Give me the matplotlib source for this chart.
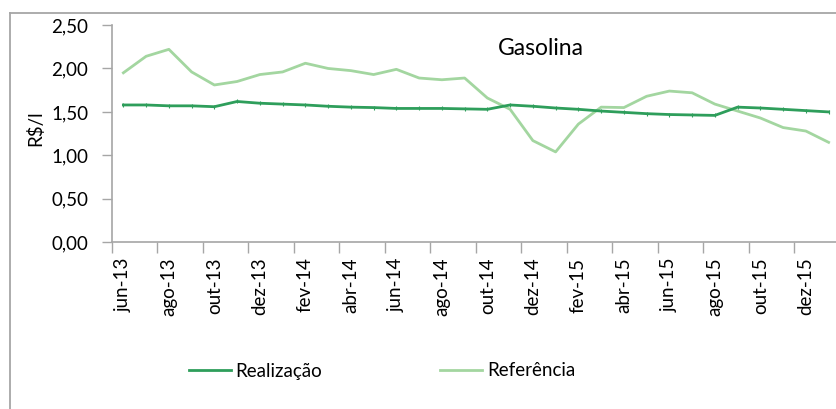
import matplotlib
matplotlib.use("Agg")
import matplotlib.pyplot as plt
from matplotlib.lines import Line2D
from matplotlib.ticker import FixedLocator, FuncFormatter

# ----------------------------------------------------------------------
# Data: monthly gasoline price (R$/l), jun-13 .. jan-16
# ----------------------------------------------------------------------
months = ["jun-13", "jul-13", "ago-13", "set-13", "out-13", "nov-13",
          "dez-13", "jan-14", "fev-14", "mar-14", "abr-14", "mai-14",
          "jun-14", "jul-14", "ago-14", "set-14", "out-14", "nov-14",
          "dez-14", "jan-15", "fev-15", "mar-15", "abr-15", "mai-15",
          "jun-15", "jul-15", "ago-15", "set-15", "out-15", "nov-15",
          "dez-15", "jan-16"]

realizacao = [1.58, 1.58, 1.57, 1.57, 1.56, 1.62, 1.60, 1.59, 1.58, 1.565,
              1.555, 1.55, 1.54, 1.54, 1.54, 1.535, 1.53, 1.58, 1.565, 1.545,
              1.53, 1.51, 1.495, 1.48, 1.47, 1.465, 1.46, 1.555, 1.545, 1.53,
              1.515, 1.50]

referencia = [1.95, 2.14, 2.22, 1.96, 1.81, 1.85, 1.93, 1.96, 2.06, 2.00,
              1.975, 1.93, 1.99, 1.89, 1.87, 1.89, 1.66, 1.53, 1.17, 1.04,
              1.36, 1.555, 1.55, 1.68, 1.74, 1.72, 1.59, 1.51, 1.43, 1.32,
              1.28, 1.15]

y_ticks = [0.0, 0.5, 1.0, 1.5, 2.0, 2.5]

COLOR_REAL = "#2e9e5b"
COLOR_REF = "#a3d6a0"
GRAY = "#a6a6a6"
FONT = ["Lato", "DejaVu Sans"]

plt.rcParams["font.family"] = FONT

W, H = 837, 409
fig = plt.figure(figsize=(W / 100, H / 100), dpi=100)

# plot area in pixels: x from 112 to 840 (cropped by the image), y 25..242
n = len(months)
left, right, top, bottom = 112, 840, 25, 242.3
ax = fig.add_axes([left / W, 1 - bottom / H, (right - left) / W, (bottom - top) / H])

x = [i + 0.5 for i in range(n)]
ax.plot(x, referencia, color=COLOR_REF, lw=2.0, solid_joinstyle="round")
ax.plot(x, realizacao, color=COLOR_REAL, lw=2.0, solid_joinstyle="round",
        marker="|", markersize=3, markeredgewidth=0.8)

ax.set_xlim(0, n)
ax.set_ylim(0, 2.5)

# y axis
ax.yaxis.set_major_locator(FixedLocator(y_ticks))
ax.yaxis.set_major_formatter(FuncFormatter(lambda v, p: f"{v:.2f}".replace(".", ",")))
ax.tick_params(axis="y", which="major", length=7, width=1, color=GRAY,
               pad=10, labelsize=13.5, labelcolor="black")

# x axis: tick marks at every second category boundary, labels centred
ax.xaxis.set_major_locator(FixedLocator(list(range(0, n + 1, 2))))
ax.xaxis.set_major_formatter(FuncFormatter(lambda v, p: ""))
ax.xaxis.set_minor_locator(FixedLocator([i + 0.5 for i in range(0, n, 2)]))
ax.set_xticklabels([months[i] for i in range(0, n, 2)], minor=True, rotation=90)
ax.tick_params(axis="x", which="major", length=8, width=1, color=GRAY)
ax.tick_params(axis="x", which="minor", length=0, pad=11, labelsize=13.5,
               labelcolor="black")

for side in ("top", "right"):
    ax.spines[side].set_visible(False)
for side in ("left", "bottom"):
    ax.spines[side].set_color(GRAY)
    ax.spines[side].set_linewidth(1.2)

# texts
fig.text(541 / W, 1 - 55 / H, "Gasolina", ha="center", va="baseline",
         fontsize=16.5)
fig.text(35.5 / W, 1 - 128 / H, "R$/l", rotation=90, ha="center", va="center",
         fontsize=13.5)

# legend
handles = [Line2D([], [], color=COLOR_REAL, lw=2.0),
           Line2D([], [], color=COLOR_REF, lw=2.0)]
fig.legend(handles, ["Realização", "Referência"], loc="center",
           bbox_to_anchor=(382 / W, 1 - 371 / H), ncol=2, frameon=False,
           fontsize=13.5, handlelength=2.25, handletextpad=0.25,
           columnspacing=6.3)

# outer chart border (left and top visible, rest cropped)
fig.add_artist(Line2D([10.5 / W, 10.5 / W], [0, 1 - 13 / H], color=GRAY, lw=1.3,
                      transform=fig.transFigure))
fig.add_artist(Line2D([10.5 / W, 1.0], [1 - 13 / H, 1 - 13 / H], color=GRAY, lw=1.3,
                      transform=fig.transFigure))

fig.savefig("out.png", dpi=100)
